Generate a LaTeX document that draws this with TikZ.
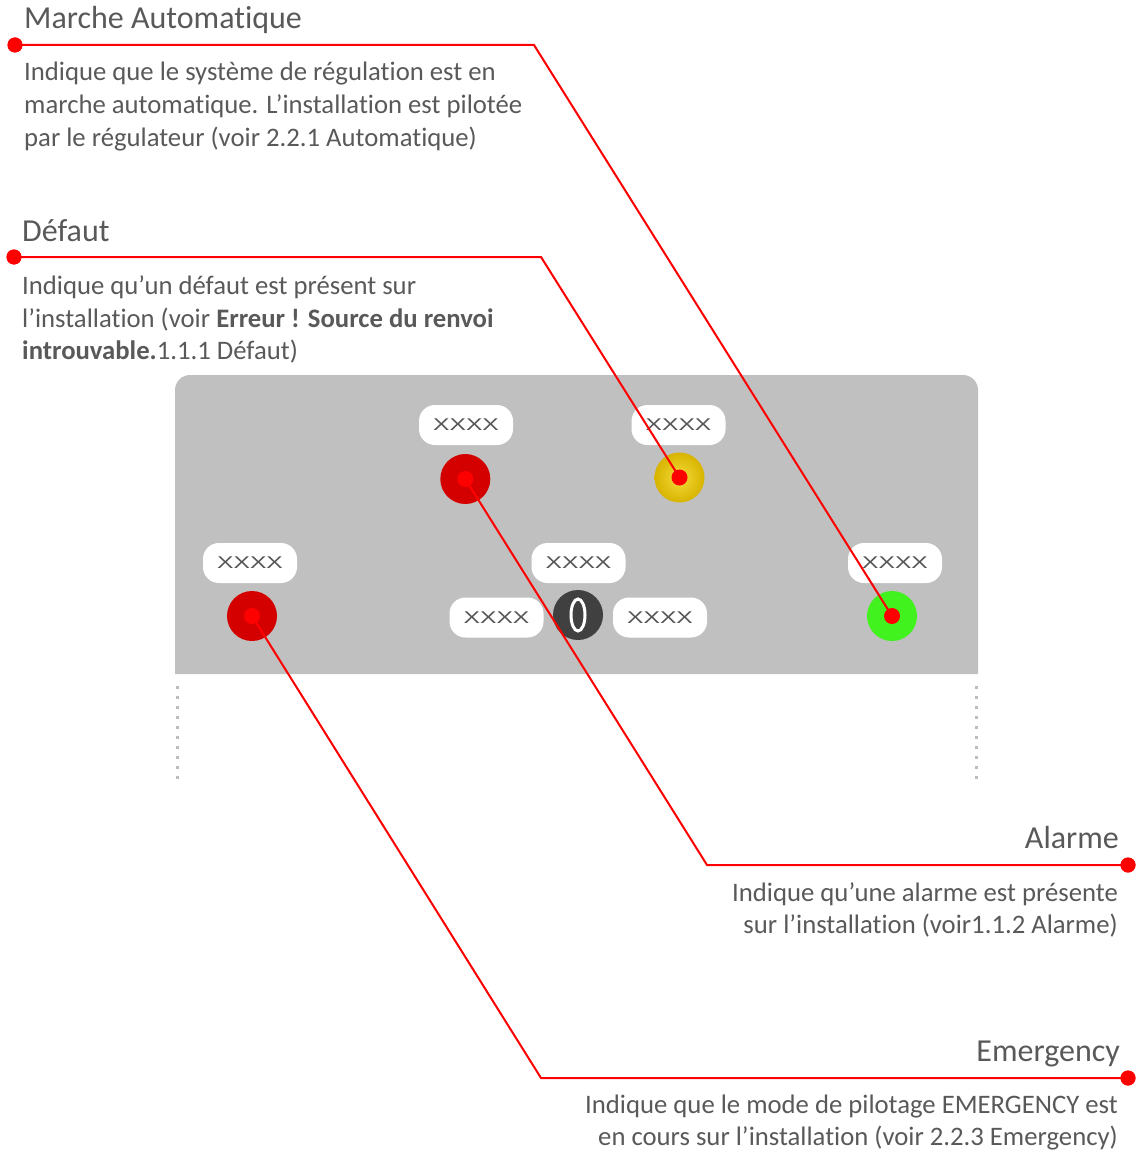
\documentclass[tikz,border=0pt]{standalone}
\usepackage{fontspec}
\setmainfont{Carlito}[Ligatures={NoCommon,NoRare,NoContextual}]
\newfontfamily\pillfont{Liberation Sans}
\usetikzlibrary{shadings}
\definecolor{txtgray}{HTML}{595959}
\definecolor{panelgray}{HTML}{C0C0C0}
\definecolor{dotgray}{HTML}{BDBDBD}
\definecolor{ledred}{HTML}{D40000}
\definecolor{ledgreen}{HTML}{42F21E}
\definecolor{knobgray}{HTML}{404040}
\definecolor{yellowin}{HTML}{F4DA3A}
\definecolor{yellowout}{HTML}{D8B400}
\definecolor{pilltxt}{HTML}{555555}
\tikzset{
  title/.style={inner sep=0pt, text=txtgray, font=\fontsize{32}{38}\selectfont},
  body/.style={inner sep=0pt, text=txtgray, font=\fontsize{26.7}{33}\selectfont},
  pill/.style={fill=white, rounded corners=16pt, minimum width=94pt, minimum height=40pt, inner sep=0pt,
    text=pilltxt, font=\pillfont\fontsize{17}{17}\selectfont},
  led/.style={circle, minimum size=50pt, inner sep=0pt},
  reddot/.style={circle, fill=red, minimum size=15pt, inner sep=0pt},
  leddot/.style={circle, fill=red, minimum size=16pt, inner sep=0pt},
  conn/.style={red, line width=2pt, line join=miter},
}
\newcommand{\xx}{\raisebox{-2pt}{\scalebox{1.45}[1]{XXXX}}}
\begin{document}
\begin{tikzpicture}[x=1pt,y=-1pt]
\useasboundingbox (0,0) rectangle (1137,1150);
% panel
\fill[panelgray] (175,674) -- (175,390) arc[start angle=180,end angle=270,radius=15]
  -- (963,375) arc[start angle=270,end angle=360,radius=15] -- (978,674) -- cycle;
\draw[dotgray, line width=3pt, dash pattern=on 3pt off 7pt] (177,686) -- (177,784);
\draw[dotgray, line width=3pt, dash pattern=on 3pt off 7pt] (976,686) -- (976,784);
% pills
\node[pill] (p1) at (466,425) {\xx};
\node[pill] (p2) at (678.5,425) {\xx};
\node[pill] (p3) at (250,563) {\xx};
\node[pill] (p4) at (578.5,563) {\xx};
\node[pill] (p5) at (895,563) {\xx};
\node[pill] (p6) at (496.5,617.5) {\xx};
\node[pill] (p7) at (660,617.5) {\xx};
% LEDs
\node[led, fill=ledred] (ledA) at (465.3,479) {};
\node[led, inner color=yellowin, outer color=yellowout] (ledY) at (679.5,477.5) {};
\node[led, fill=ledred] (ledE) at (252,616) {};
\node[led, fill=ledgreen] (ledG) at (892,616) {};
\node[led, fill=knobgray] (knob) at (578,615) {};
\draw[white, line width=3pt] (knob.center) ellipse[x radius=7, y radius=16];
% texts
\node[title, anchor=base west] (tM) at (24,29) {Marche Automatique};
\node[body, anchor=base west] (bM1) at (24,81) {Indique que le système de régulation est en};
\node[body, anchor=base west] (bM2) at (24,114) {marche automatique. L’installation est pilotée};
\node[body, anchor=base west] (bM3) at (24,147) {par le régulateur (voir 2.2.1 Automatique)};
\node[title, anchor=base west] (tD) at (22,242) {Défaut};
\node[body, anchor=base west] (bD1) at (22,294) {Indique qu’un défaut est présent sur};
\node[body, anchor=base west] (bD2) at (22,327) {l’installation (voir \textbf{Erreur ! Source du renvoi}};
\node[body, anchor=base west] (bD3) at (22,359) {\textbf{introuvable.}1.1.1 Défaut)};
\node[title, anchor=base east] (tA) at (1119,848) {Alarme};
\node[body, anchor=base east] (bA1) at (1118,901) {Indique qu’une alarme est présente};
\node[body, anchor=base east] (bA2) at (1118,933) {sur l’installation (voir1.1.2 Alarme)};
\node[title, anchor=base east] (tE) at (1120,1061) {Emergency};
\node[body, anchor=base east] (bE1) at (1118,1113) {Indique que le mode de pilotage EMERGENCY est};
\node[body, anchor=base east] (bE2) at (1118,1145) {en cours sur l’installation (voir 2.2.3 Emergency)};
% dots
\node[reddot] (dM) at (15,45) {};
\node[reddot] (dD) at (14,257) {};
\node[reddot] (dA) at (1128,865) {};
\node[reddot] (dE) at (1128,1078) {};
\coordinate (cM) at (534,45);
\coordinate (cD) at (541,257);
\coordinate (cA) at (707,865);
\coordinate (cE) at (541,1078);
% connectors
\draw[conn] (dM.center) -- (cM) -- (ledG.center);
\draw[conn] (dD.center) -- (cD) -- (ledY.center);
\draw[conn] (dA.center) -- (cA) -- (ledA.center);
\draw[conn] (dE.center) -- (cE) -- (ledE.center);
\node[leddot] (xG) at (ledG.center) {};
\node[leddot] (xY) at (ledY.center) {};
\node[leddot] (xA) at (ledA.center) {};
\node[leddot] (xE) at (ledE.center) {};
\node[reddot] at (dM.center) {};
\node[reddot] at (dD.center) {};
\node[reddot] at (dA.center) {};
\node[reddot] at (dE.center) {};
\end{tikzpicture}
\end{document}
